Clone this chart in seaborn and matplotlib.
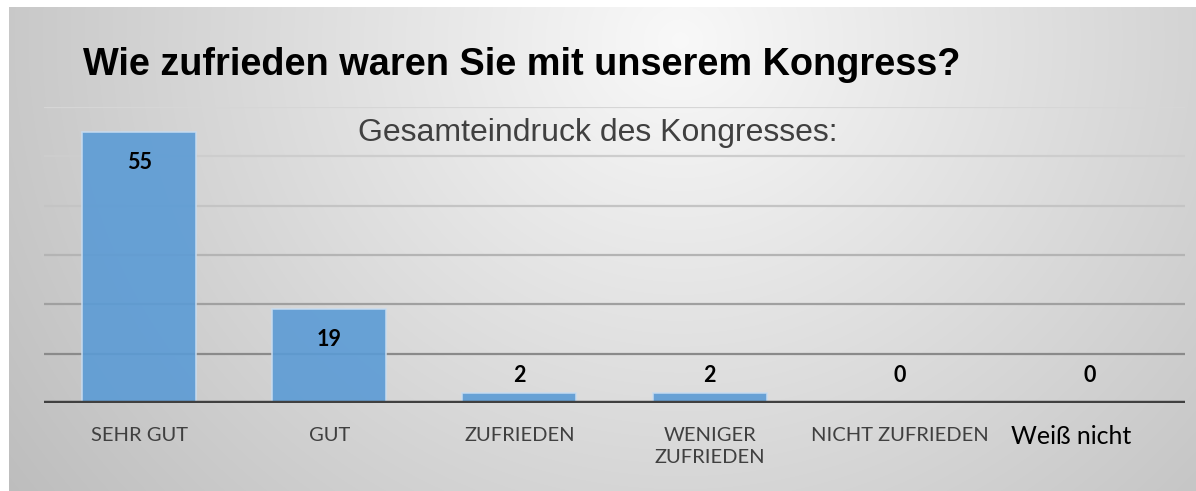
import numpy as np
import pandas as pd
import seaborn as sb
import matplotlib.pyplot as plt
from matplotlib.transforms import ScaledTranslation

categories = ['SEHR GUT', 'GUT', 'ZUFRIEDEN', 'WENIGER\nZUFRIEDEN', 'NICHT ZUFRIEDEN', 'Weiß nicht']
values = [55, 19, 2, 2, 0, 0]
yticks = [0, 10, 20, 30, 40, 50, 60]

title = 'Wie zufrieden waren Sie mit unserem Kongress?'
subtitle = 'Gesamteindruck des Kongresses:'

W, H = 1196, 491

sb.set_theme(style='white')
plt.rcParams['font.family'] = ['Lato', 'DejaVu Sans']

fi = plt.figure(figsize=(W / 100, H / 100), dpi=100)
fi.patch.set_facecolor('white')

# gray gradient panel behind the chart, drawn straight into figure pixels
yy, xx = np.mgrid[0:H, 0:W]
r = np.sqrt(((xx - 680) / 820.0) ** 2 + ((yy - 40) / 760.0) ** 2)
shade = np.clip(0.975 - 0.23 * r, 0, 1)
img = np.dstack([shade, shade, shade])
img[:7, :, :] = 1.0
img[:, :9, :] = 1.0
fi.figimage(img, xo=0, yo=0, origin='upper', zorder=-5)

ax = fi.add_axes([44 / W, 1 - 403 / H, (1185 - 44) / W, (403 - 107) / H])
ax.set_facecolor('none')

df = pd.DataFrame({'cat': categories, 'n': values})
sb.barplot(x='cat', y='n', data=df, color='#5b9bd5', saturation=1,
           alpha=0.9, width=0.6, edgecolor='#c8dcf0', linewidth=1.2, ax=ax, zorder=3)

ax.set_xlim(-0.5, len(categories) - 0.5)
ax.set_ylim(yticks[0], yticks[-1])
ax.set_yticks(yticks)
ax.set_yticklabels([])
ax.tick_params(axis='y', length=0)
ax.tick_params(axis='x', length=0, pad=17, labelsize=14.5, labelcolor='#404040')

grid_cols = ['#404040', '#8a8a8a', '#a0a0a0', '#b4b4b4', '#c4c4c4', '#cdcdcd', '#d6d6d6']
for t, c in zip(yticks[1:], grid_cols[1:]):
    ax.axhline(t, color=c, linewidth=1.6, zorder=1)
ax.axhline(0, color='#404040', linewidth=3.2, zorder=4)

for s in ax.spines.values():
    s.set_visible(False)

ax.set_xlabel('')
ax.set_ylabel('')

labs = ax.get_xticklabels()
for lab in labs:
    lab.set_linespacing(1.35)
last = labs[-1]
last.set_color('black')
last.set_fontsize(18)
last.set_transform(last.get_transform() + ScaledTranslation(-19 / 100, 2 / 100, fi.dpi_scale_trans))

# value labels
for i, v in enumerate(values):
    if v >= 10:
        ax.annotate(str(v), xy=(i, v), xytext=(0, -22), textcoords='offset points',
                    ha='center', va='center', fontsize=15.5, fontweight='bold', color='black', zorder=5)
    else:
        ax.annotate(str(v), xy=(i, 0), xycoords=('data', 'axes fraction'), xytext=(0, 19.5),
                    textcoords='offset points', ha='center', va='center',
                    fontsize=15.5, fontweight='bold', color='black', zorder=5)

fi.text(83 / W, 1 - 75 / H, title, family='Liberation Sans', fontweight='bold',
        fontsize=27.3, color='black', ha='left', va='baseline')
fi.text(598 / W, 1 - 141 / H, subtitle, family='Liberation Sans',
        fontsize=23, color='#404040', ha='center', va='baseline')

plt.savefig('out.png', dpi=100)
